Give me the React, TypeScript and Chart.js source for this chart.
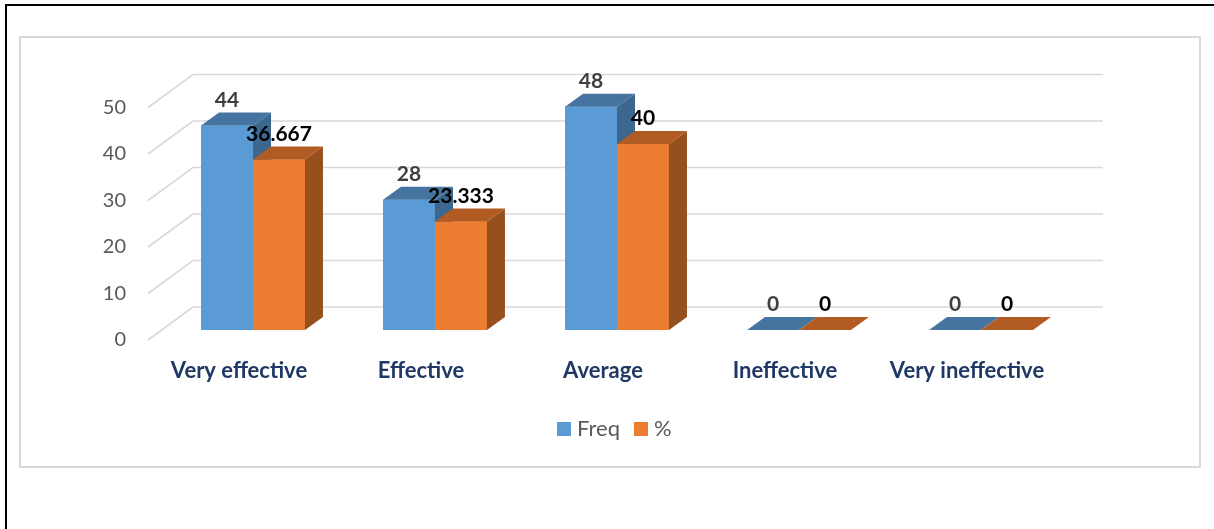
import React, { useEffect, useRef } from "react";
import { Chart, registerables } from "chart.js";

Chart.register(...registerables);

const categories = ["Very effective", "Effective", "Average", "Ineffective", "Very ineffective"];
const freqValues = [44, 28, 48, 0, 0];
const pctValues = [36.667, 23.333, 40, 0, 0];
const freqLabels = ["44", "28", "48", "0", "0"];
const pctLabels = ["36.667", "23.333", "40", "0", "0"];
const yTicks = [0, 10, 20, 30, 40, 50];
const seriesNames = ["Freq", "%"];

const FRONT_COLORS = ["#5B9BD5", "#ED7D31"];
const TOP_COLORS = ["#4674A0", "#B25B23"];
const SIDE_COLORS = ["#3C6890", "#96501E"];
const LABEL_COLORS = ["#404040", "#000000"];

const DX = 18;
const DY = 13;
const BACK_X = 31;
const BACK_Y = 23;
const FRONT_X = -14;
const FRONT_Y = 10;
const FONT = "Lato, 'Open Sans', sans-serif";

const excel3d = {
  id: "excel3d",
  beforeDraw(chart: any) {
    const ctx = chart.ctx;
    ctx.save();
    ctx.fillStyle = "#ffffff";
    ctx.fillRect(0, 0, chart.width, chart.height);
    // outer black frame (top and left visible)
    ctx.fillStyle = "#000000";
    ctx.fillRect(5, 4, chart.width - 5, 2);
    ctx.fillRect(5, 4, 2, chart.height - 4);
    // chart area frame
    ctx.strokeStyle = "#D9D9D9";
    ctx.lineWidth = 2;
    ctx.strokeRect(20, 37, 1180, 430);
    ctx.restore();
  },
  beforeDatasetsDraw(chart: any) {
    const ctx = chart.ctx;
    const y = chart.scales.y;
    const { left, right } = chart.chartArea;
    ctx.save();
    ctx.strokeStyle = "#D9D9D9";
    ctx.lineWidth = 1.6;
    for (const v of yTicks) {
      const py = y.getPixelForValue(v);
      ctx.beginPath();
      ctx.moveTo(left + FRONT_X, py + FRONT_Y);
      ctx.lineTo(left + BACK_X, py - BACK_Y);
      ctx.lineTo(right + BACK_X, py - BACK_Y);
      ctx.stroke();
    }
    ctx.restore();
  },
  afterDatasetsDraw(chart: any) {
    const ctx = chart.ctx;
    ctx.save();
    [0, 1].forEach((i) => {
      const meta = chart.getDatasetMeta(i);
      for (const bar of meta.data) {
        const p = bar.getProps(["x", "y", "base", "width"], true);
        const l = p.x - p.width / 2;
        const r = p.x + p.width / 2;
        // front face (re-drawn so that the depth order is right)
        bar.draw(ctx, chart.chartArea);
        // side face
        if (p.base - p.y > 0.5) {
          ctx.fillStyle = SIDE_COLORS[i];
          ctx.beginPath();
          ctx.moveTo(r, p.y);
          ctx.lineTo(r + DX, p.y - DY);
          ctx.lineTo(r + DX, p.base - DY);
          ctx.lineTo(r, p.base);
          ctx.closePath();
          ctx.fill();
        }
        // top face
        ctx.fillStyle = TOP_COLORS[i];
        ctx.beginPath();
        ctx.moveTo(l, p.y);
        ctx.lineTo(r, p.y);
        ctx.lineTo(r + DX, p.y - DY);
        ctx.lineTo(l + DX, p.y - DY);
        ctx.closePath();
        ctx.fill();
      }
    });
    ctx.restore();
  },
  afterDraw(chart: any) {
    const ctx = chart.ctx;
    const x = chart.scales.x;
    const y = chart.scales.y;
    const { left } = chart.chartArea;
    ctx.save();
    // y tick labels
    ctx.font = `20px ${FONT}`;
    ctx.fillStyle = "#595959";
    ctx.textAlign = "right";
    ctx.textBaseline = "middle";
    for (const v of yTicks) {
      ctx.fillText(String(v), left - 36, y.getPixelForValue(v) + FRONT_Y);
    }
    // category labels
    ctx.font = `bold 22px ${FONT}`;
    ctx.fillStyle = "#1F3864";
    ctx.textAlign = "center";
    categories.forEach((c, k) => {
      ctx.fillText(c, x.getPixelForValue(k) + FRONT_X, 371);
    });
    // value labels
    ctx.font = `bold 21px ${FONT}`;
    [freqLabels, pctLabels].forEach((labels, di) => {
      const meta = chart.getDatasetMeta(di);
      meta.data.forEach((bar: any, k: number) => {
        const p = bar.getProps(["x", "y"], true);
        ctx.fillStyle = LABEL_COLORS[di];
        ctx.fillText(labels[k], p.x, p.y - 25.5);
      });
    });
    // legend
    ctx.font = `22px ${FONT}`;
    ctx.textAlign = "left";
    let lx = 557;
    seriesNames.forEach((name, di) => {
      ctx.fillStyle = FRONT_COLORS[di];
      ctx.fillRect(lx, 422, 14, 14);
      ctx.fillStyle = "#595959";
      ctx.fillText(name, lx + 20, 429);
      lx += 20 + ctx.measureText(name).width + 14;
    });
    ctx.restore();
  },
};

export default function App() {
  const ref = useRef<HTMLCanvasElement | null>(null);
  useEffect(() => {
    if (!ref.current) return;
    const chart = new Chart(ref.current, {
      type: "bar",
      data: {
        labels: categories,
        datasets: [
          { label: seriesNames[0], data: freqValues, backgroundColor: FRONT_COLORS[0], borderWidth: 0 },
          { label: seriesNames[1], data: pctValues, backgroundColor: FRONT_COLORS[1], borderWidth: 0 },
        ],
      },
      options: {
        responsive: false,
        maintainAspectRatio: false,
        animation: false,
        devicePixelRatio: 1,
        layout: { padding: { left: 162, right: 142, top: 97.5, bottom: 199 } },
        datasets: { bar: { categoryPercentage: 0.571, barPercentage: 1 } },
        plugins: { legend: { display: false }, tooltip: { enabled: false } },
        scales: {
          x: { display: false, offset: true, grid: { display: false } },
          y: { display: false, min: 0, max: 50, grid: { display: false } },
        },
      },
      plugins: [excel3d],
    } as any);
    return () => chart.destroy();
  }, []);
  return (
    <div style={{ position: "absolute", left: 0, top: 0, width: 1214, height: 529 }}>
      <canvas ref={ref} width={1214} height={529} style={{ display: "block" }} />
    </div>
  );
}
